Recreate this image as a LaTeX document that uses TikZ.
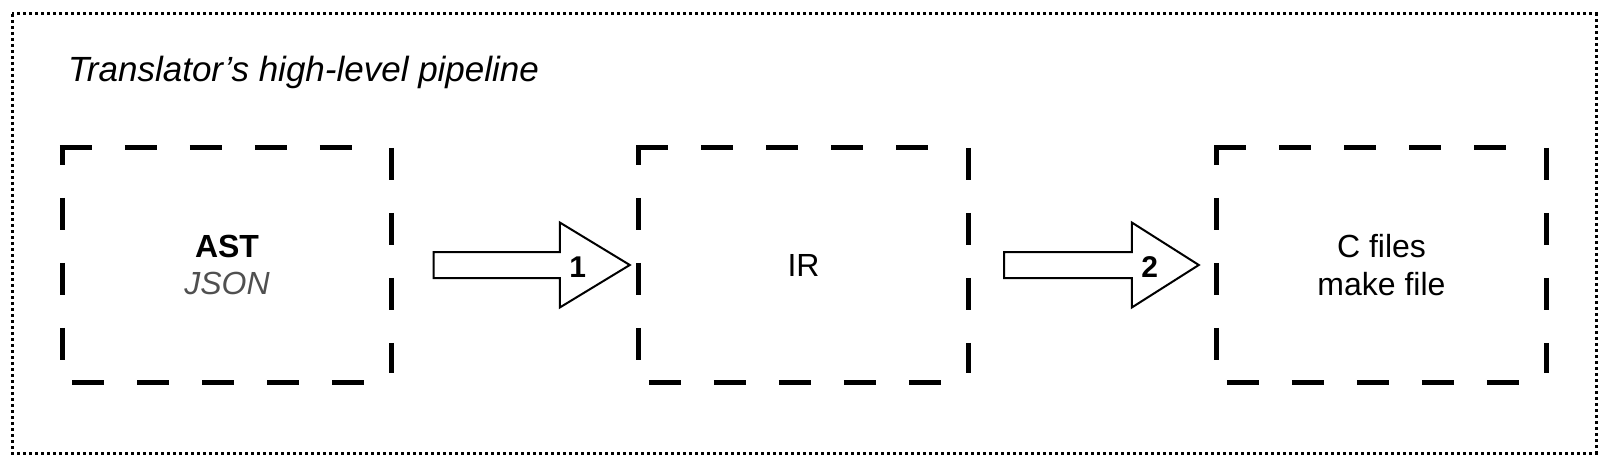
\documentclass[tikz,border=0pt]{standalone}
\usepackage{fontspec}
\setmainfont{Liberation Sans}
\usetikzlibrary{calc}
\definecolor{jsongray}{RGB}{80,80,80}
\tikzset{
  sketchdash/.style={line width=5pt, dash pattern=on 32pt off 33pt, line cap=butt},
  outerdot/.style={line width=3pt, dash pattern=on 3pt off 3pt},
  boxnode/.style={minimum width=329pt, minimum height=234pt, inner sep=0pt, align=center,
    font=\fontsize{32}{38}\selectfont},
  blockarr/.style={line width=2pt, fill=white, line join=miter},
  steplabel/.style={font=\fontsize{30}{36}\selectfont\bfseries, inner sep=0pt},
  titletext/.style={font=\fontsize{35}{42}\selectfont\itshape, inner sep=0pt, anchor=base west}
}
\newcommand\sketchbox[1]{%
  \draw[sketchdash] ($(#1.north west)+(-2.5,0)$) -- ($(#1.north west)+(292,0)$);
  \draw[sketchdash] (#1.north east) -- ($(#1.north east)+(0,225)$);
  \draw[sketchdash] ($(#1.south west)+(10,0)$) -- ($(#1.south west)+(302,0)$);
  \draw[sketchdash] (#1.north west) -- ($(#1.north west)+(0,17)$);
  \draw[sketchdash] ($(#1.north west)+(0,50)$) -- ($(#1.north west)+(0,212)$);
}
\newcommand\blockarrow[3]{%
  \draw[blockarr] ($(#1)+(0,-13)$) -- ($(#2)+(-#3,-13)$) -- ($(#2)+(-#3,-42.5)$) -- (#2)
    -- ($(#2)+(-#3,42.5)$) -- ($(#2)+(-#3,13)$) -- ($(#1)+(0,13)$) -- cycle;
}
\begin{document}
\begin{tikzpicture}[x=1pt,y=-1pt]
  \useasboundingbox (0,0) rectangle (1610,468);
  \draw[outerdot] (12,14) rectangle (1596,453);
  \node[titletext] (title) at (68,82) {Translator’s high-level pipeline};

  \node[boxnode] (b1) at (227,265) {\textbf{AST}\\[-1pt]{\itshape\color{jsongray}JSON}};
  \node[boxnode] (b2) at (803.5,265) {\raisebox{-2pt}{IR}};
  \node[boxnode] (b3) at (1381.5,265) {C files\\make file};
  \sketchbox{b1}
  \sketchbox{b2}
  \sketchbox{b3}

  \coordinate (a1s) at ($(b1.east)+(42,0)$);
  \coordinate (a1t) at ($(b2.west)+(-9,0)$);
  \coordinate (a2s) at ($(b2.east)+(36,0)$);
  \coordinate (a2t) at ($(b3.west)+(-18,0)$);
  \blockarrow{a1s}{a1t}{70}
  \blockarrow{a2s}{a2t}{67}
  \node[steplabel] (l1) at ($(a1t)+(-52,2)$) {1};
  \node[steplabel] (l2) at ($(a2t)+(-49,2)$) {2};
\end{tikzpicture}
\end{document}
